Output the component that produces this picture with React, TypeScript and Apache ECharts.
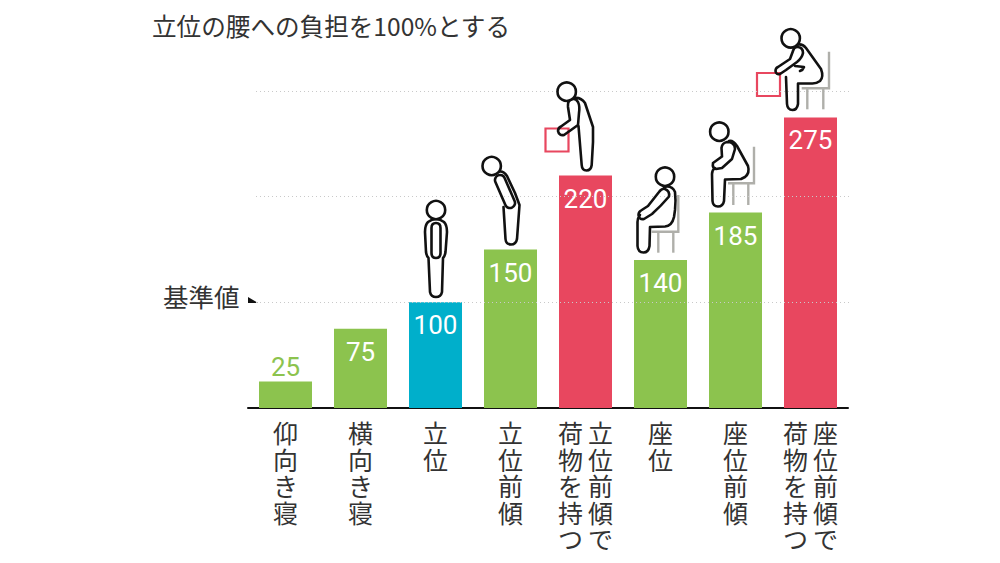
import React, { useEffect, useRef } from "react";
import * as echarts from "echarts";

const title = "立位の腰への負担を100%とする";
const baseLabel = "基準値";
const categoryColumns = ["仰向き寝", "横向き寝", "立位", "立位前傾", "立位前傾で", "座位", "座位前傾", "座位前傾で"];
const secondColumns = ["", "", "", "", "荷物を持つ", "", "", "荷物を持つ"];
const values = [25, 75, 100, 150, 220, 140, 185, 275];
const barKinds = ["plain", "plain", "base", "plain", "load", "plain", "plain", "load"];
const gridValues = [100, 200, 300];

const GREEN = "#8CC34E";
const BLUE = "#00AFCB";
const RED = "#E8475F";
const INK = "#111111";
const GRAY = "#AFAFAA";
const kindColor: Record<string, string> = { plain: GREEN, base: BLUE, load: RED };

const bodies: Record<string, string> = {
  stand:
    "M428 222 Q436 216 444 222 Q447 225 447 232 L445.5 252 Q445 256 443 258 L442 292 Q441 297 436 297 Q431 297 430 292 L428.5 258 Q426.5 256 426 252 L425 232 Q425 225 428 222 Z M431.5 228 Q431.5 223 436 223 Q440.5 223 440.5 228 L440.5 253 Q440.5 258 436 258 Q431.5 258 431.5 253 Z",
  bend:
    "M498 172 Q503 170 507 176 L515 193 L519.5 205 L517 239 Q516 244.5 511 244.5 Q506 244.5 505.5 239 L503.5 207 M504.6 178 L514.6 201 A5 5 0 0 1 505.4 205 L495.4 182 A5 5 0 0 1 504.6 178 Z",
  lift:
    "M574 98 Q581 97 585 103 L593 127 L593 142 L591.7 165 Q591 170.5 586.5 170.5 Q582 170.5 581.7 165 L578.5 126 M570 100 Q575 97 578 102 Q580 106 579 113 L578 125 L564 135 Q559 136 558 131 Q558 128 561 126.5 L570 120 L568 107 Q567.5 102 570 100 Z",
  sit:
    "M664 187 Q672 185 675 192 Q676 200 675 210 L674 217 Q672 226 665 226.5 L650 227 L649.5 246 Q648.5 252.5 643.5 252.5 Q638 252.5 637.5 246 L637.5 222 Q637.5 218 640 215 M665 189 Q670 191 669 196.5 Q661 206 652 214 L644 219 Q639 220 638.5 215 Q638.5 212 641 210.5 L648 206 L659 192 Q662 188 665 189 Z",
  lean:
    "M729 141 Q733 140 737 146 L748 166 Q750 173 745 177 L741 179 L725 179.5 L724 201 Q723 206.5 718 206.5 Q713 206.5 712.5 201 L712 174 Q712 170 715 168 M727 142 Q735 142 735 149 L732 159 L722 168 L716 169 Q712 168 713 163 L722 156.5 L721.5 148 Q722 143 727 142 Z",
  load:
    "M796 45 Q802 43 806 48 L821 69 Q824 77 820 81 Q816 84 811 83.5 L798 83.5 L798 104 Q797 110 792.5 110 Q787.5 110 787 104 L786 77 M797 47 Q803 47 803 53 Q802 58 797 62 L786 70 L780 74 Q776 75 775.5 71 Q775.5 68 778 67 L790 59 L793 51 Q794 47 797 47 Z M795 66 L804 67 Q803 70 800 71",
};
Object.entries(bodies).forEach(([name, d]) => {
  echarts.graphic.registerShape("fig_" + name, echarts.graphic.extendPath(d, {}));
});

const heads: [number, number][] = [
  [436, 210],
  [491.7, 166],
  [566.7, 91.7],
  [665, 176.7],
  [719.3, 131.7],
  [790.7, 38.3],
];
const boxes: [number, number][] = [
  [545.5, 128.5],
  [757, 73],
];
// chair: back x, back top, seat y, seat left, leg 1 x, leg 2 x, leg bottom
const chairs: number[][] = [
  [678.3, 195, 231.7, 651.7, 658.3, 673.3, 252.7],
  [754, 146.7, 183.3, 728, 733.3, 748.3, 205],
  [829, 51.7, 88.3, 801.7, 807.3, 823.3, 109.3],
];

function decorations() {
  const out: any[] = [];
  const gs = { stroke: GRAY, lineWidth: 2.4, fill: "none" };
  chairs.forEach(([bx, top, sy, sl, l1, l2, lb]) => {
    out.push({ type: "polyline", shape: { points: [[bx, top], [bx, sy], [sl, sy]] }, style: gs, z: 5 });
    out.push({ type: "line", shape: { x1: l1, y1: sy, x2: l1, y2: lb }, style: gs, z: 5 });
    out.push({ type: "line", shape: { x1: l2, y1: sy, x2: l2, y2: lb }, style: gs, z: 5 });
  });
  boxes.forEach(([x, y]) => {
    out.push({
      type: "rect",
      shape: { x, y, width: 23, height: 23 },
      style: { fill: "#fff", stroke: RED, lineWidth: 2.2 },
      z: 5,
    });
  });
  Object.keys(bodies).forEach((name) => {
    out.push({
      type: "fig_" + name,
      x: 0,
      y: 0,
      style: { fill: "none", stroke: INK, lineWidth: 2.6, lineJoin: "round", lineCap: "round" },
      z: 6,
    });
  });
  heads.forEach(([cx, cy]) => {
    out.push({
      type: "circle",
      shape: { cx, cy, r: 9.2 },
      style: { fill: "#fff", stroke: INK, lineWidth: 2.6 },
      z: 7,
    });
  });
  out.push({
    type: "text",
    x: 152,
    y: 24.5,
    style: { text: title, font: '400 24.6px "Noto Sans CJK JP"', fill: "#333", textVerticalAlign: "middle" },
  });
  out.push({
    type: "text",
    x: 163,
    y: 295,
    style: { text: baseLabel, font: '400 25.5px "Noto Sans CJK JP"', fill: "#333", textVerticalAlign: "middle" },
  });
  out.push({
    type: "polygon",
    shape: { points: [[248, 297], [258, 303], [248, 303]] },
    style: { fill: "#111" },
  });
  return out;
}

const vertical = (s: string) => s.split("").join("\n");
const hasSecond = (i: number) => secondColumns[i] !== "";
const axisText = {
  fontFamily: "Noto Sans CJK JP",
  fontSize: 25,
  lineHeight: 26.5,
  color: "#333",
  align: "center" as const,
  verticalAlign: "top" as const,
};

export default function App() {
  const ref = useRef<HTMLDivElement>(null);
  useEffect(() => {
    const chart = echarts.init(ref.current!, null, { renderer: "svg" });
    chart.setOption({
      animation: false,
      backgroundColor: "#fff",
      grid: { left: 248, right: 152, top: 91, height: 317 },
      xAxis: [
        {
          type: "category",
          data: categoryColumns.map((c, i) => ({
            value: c,
            textStyle: hasSecond(i) ? { padding: [0, 0, 0, 30] } : {},
          })),
          axisLine: { lineStyle: { color: "#111", width: 2 } },
          axisTick: { show: false },
          axisLabel: { ...axisText, interval: 0, margin: 11, formatter: vertical },
        },
        {
          type: "category",
          position: "bottom",
          data: secondColumns.map((c, i) => ({
            value: c,
            textStyle: hasSecond(i) ? { padding: [0, 30, 0, 0] } : {},
          })),
          axisLine: { show: false },
          axisTick: { show: false },
          axisLabel: { ...axisText, interval: 0, margin: 11, formatter: vertical },
        },
      ],
      yAxis: { type: "value", min: 0, max: 300, show: false },
      series: [
        {
          type: "scatter",
          data: [],
          z: 1,
          silent: true,
          markLine: {
            silent: true,
            symbol: "none",
            label: { show: false },
            lineStyle: { color: "#C9C9C9", type: [1, 3], width: 1.2 },
            data: gridValues.map((v) => [
              { x: 256, yAxis: v },
              { x: 850, yAxis: v },
            ]),
          },
        },
        {
          type: "bar",
          z: 2,
          barWidth: 53,
          data: values.map((v, i) => ({
            value: v,
            itemStyle: { color: kindColor[barKinds[i]] },
            label:
              i === 0
                ? { position: "top", distance: 2, color: GREEN }
                : { position: "insideTop", distance: 10, color: "#fff" },
          })),
          label: {
            show: true,
            fontFamily: "Roboto",
            fontSize: 26,
          },
        },
      ],
      graphic: decorations(),
    });
    return () => chart.dispose();
  }, []);
  return <div ref={ref} style={{ position: "absolute", left: 0, top: 0, width: 1000, height: 563 }} />;
}
